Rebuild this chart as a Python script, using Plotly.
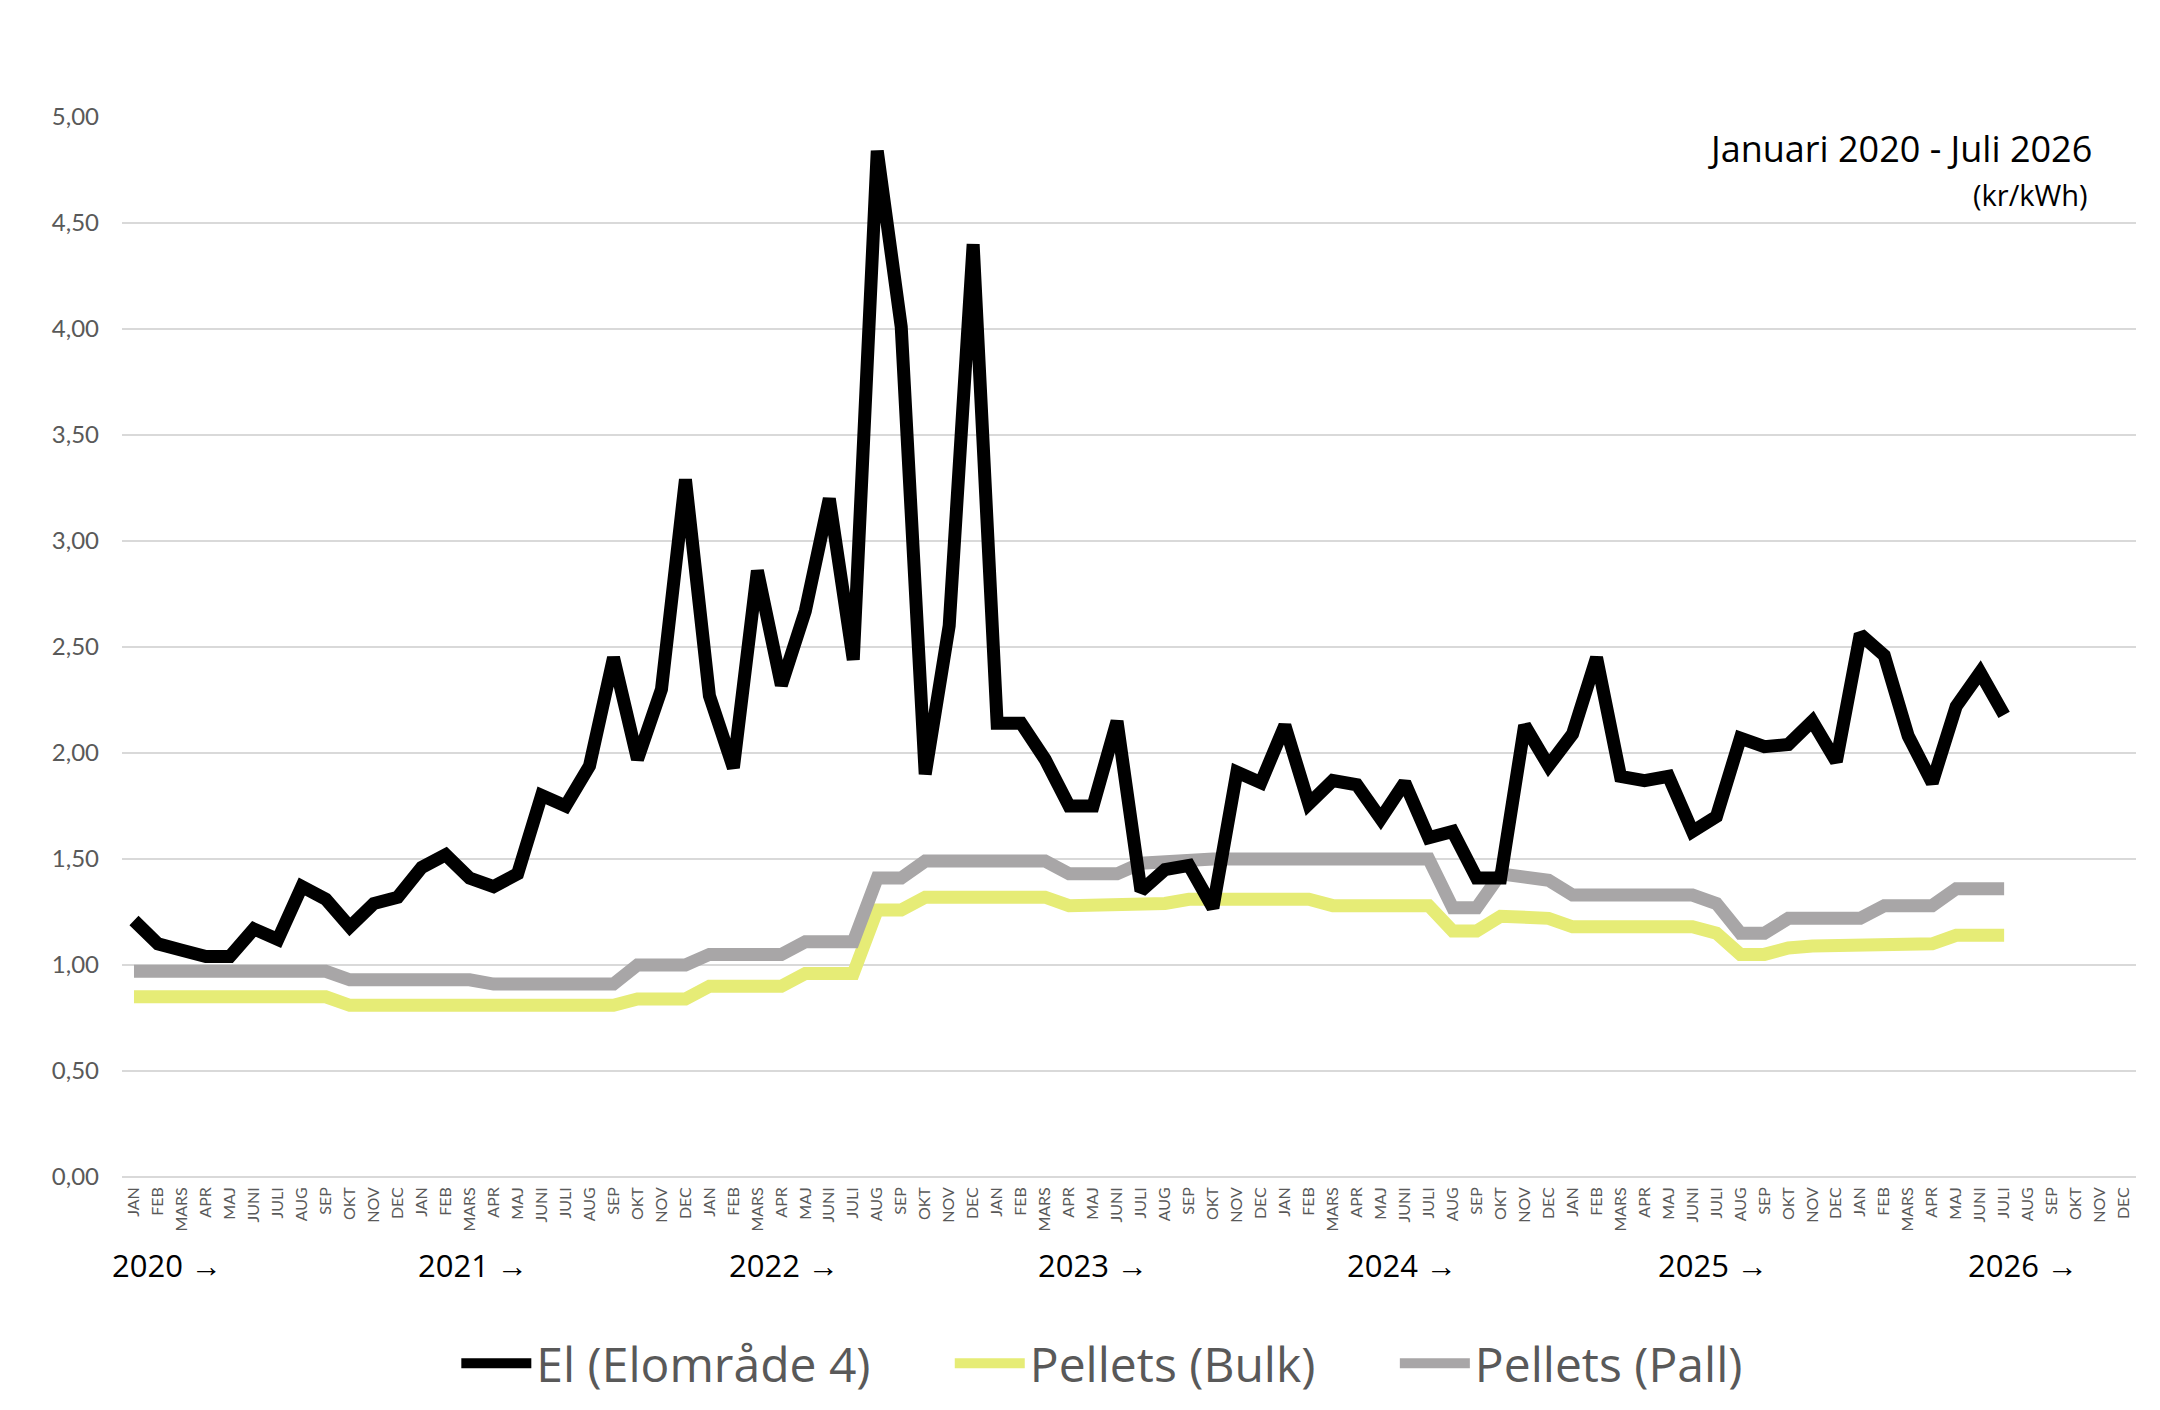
import plotly.graph_objects as go

# Month labels on the x axis (Swedish abbreviations), years shown below them
MONTHS = ["JAN", "FEB", "MARS", "APR", "MAJ", "JUNI", "JULI", "AUG", "SEP", "OKT", "NOV", "DEC"]
YEARS = ["2020", "2021", "2022", "2023", "2024", "2025", "2026"]

# kr/kWh, monthly from Jan 2020 to Jul 2026
EL_SE4 = [
    1.21, 1.10, 1.07, 1.04, 1.04, 1.17, 1.12, 1.37, 1.31, 1.18, 1.29, 1.32,
    1.46, 1.52, 1.41, 1.37, 1.43, 1.80, 1.75, 1.94, 2.45, 1.97, 2.30, 3.29,
    2.27, 1.93, 2.86, 2.32, 2.67, 3.20, 2.44, 4.84, 4.01, 1.90, 2.60, 4.40,
    2.14, 2.14, 1.97, 1.75, 1.75, 2.15, 1.35, 1.45, 1.47, 1.27, 1.91, 1.86,
    2.13, 1.76, 1.87, 1.85, 1.69, 1.86, 1.60, 1.63, 1.41, 1.41, 2.13, 1.94,
    2.09, 2.45, 1.89, 1.87, 1.89, 1.63, 1.70, 2.07, 2.03, 2.04, 2.15, 1.96,
    2.56, 2.46, 2.08, 1.86, 2.22, 2.38, 2.18,
]
PELLETS_BULK = [
    0.85, 0.85, 0.85, 0.85, 0.85, 0.85, 0.85, 0.85, 0.85, 0.81, 0.81, 0.81,
    0.81, 0.81, 0.81, 0.81, 0.81, 0.81, 0.81, 0.81, 0.81, 0.84, 0.84, 0.84,
    0.90, 0.90, 0.90, 0.90, 0.96, 0.96, 0.96, 1.26, 1.26, 1.32, 1.32, 1.32,
    1.32, 1.32, 1.32, 1.28, 1.28, 1.28, 1.28, 1.29, 1.31, 1.31, 1.31, 1.31,
    1.31, 1.31, 1.28, 1.28, 1.28, 1.28, 1.28, 1.16, 1.16, 1.23, 1.22, 1.22,
    1.18, 1.18, 1.18, 1.18, 1.18, 1.18, 1.15, 1.05, 1.05, 1.08, 1.09, 1.09,
    1.09, 1.10, 1.10, 1.10, 1.14, 1.14, 1.14,
]
PELLETS_PALL = [
    0.97, 0.97, 0.97, 0.97, 0.97, 0.97, 0.97, 0.97, 0.97, 0.93, 0.93, 0.93,
    0.93, 0.93, 0.93, 0.91, 0.91, 0.91, 0.91, 0.91, 0.91, 1.00, 1.00, 1.00,
    1.05, 1.05, 1.05, 1.05, 1.11, 1.11, 1.11, 1.41, 1.41, 1.49, 1.49, 1.49,
    1.49, 1.49, 1.49, 1.43, 1.43, 1.43, 1.48, 1.49, 1.50, 1.50, 1.50, 1.50,
    1.50, 1.50, 1.50, 1.50, 1.50, 1.50, 1.50, 1.27, 1.27, 1.43, 1.41, 1.40,
    1.33, 1.33, 1.33, 1.33, 1.33, 1.33, 1.29, 1.15, 1.15, 1.22, 1.22, 1.22,
    1.22, 1.28, 1.28, 1.28, 1.36, 1.36, 1.36,
]

# one category per month, the axis runs to Dec 2026
categories = [f"{m} {y}" for y in YEARS for m in MONTHS]
tick_text = [m for _ in YEARS for m in MONTHS]

TICK_FONT = "Lato"
TEXT_FONT = "Open Sans"
GREY_TEXT = "#595959"

fig = go.Figure()
fig.add_trace(go.Scatter(
    x=categories[:len(PELLETS_BULK)], y=PELLETS_BULK, mode="lines",
    name="Pellets (Bulk)", legend="legend2",
    line=dict(color="#E6EC76", width=13),
))
fig.add_trace(go.Scatter(
    x=categories[:len(PELLETS_PALL)], y=PELLETS_PALL, mode="lines",
    name="Pellets (Pall)", legend="legend3",
    line=dict(color="#A8A6A7", width=13),
))
fig.add_trace(go.Scatter(
    x=categories[:len(EL_SE4)], y=EL_SE4, mode="lines",
    name="El (Elområde 4)", legend="legend",
    line=dict(color="#000000", width=13),
))

# year markers under the month labels
year_x = [-0.006, 0.1459, 0.3002, 0.4536, 0.6074, 0.7618, 0.9156]
annotations = [
    dict(text=f"{y} →", x=px_, y=-0.083, xref="paper", yref="paper",
         xanchor="left", yanchor="middle", showarrow=False,
         font=dict(family=TEXT_FONT, size=31, color="#000000", weight=500))
    for y, px_ in zip(YEARS, year_x)
]
annotations += [
    dict(text="Januari 2020 - Juli 2026", x=0.979, y=0.97, xref="paper", yref="paper",
         xanchor="right", yanchor="middle", showarrow=False,
         font=dict(family=TEXT_FONT, size=36, color="#000000", weight=500)),
    dict(text="(kr/kWh)", x=0.977, y=0.927, xref="paper", yref="paper",
         xanchor="right", yanchor="middle", showarrow=False,
         font=dict(family=TEXT_FONT, size=29, color="#000000")),
]


def legend_box(x):
    return dict(
        orientation="h", x=x, xanchor="left", y=-0.176, yanchor="middle",
        bgcolor="rgba(0,0,0,0)",
        font=dict(family=TEXT_FONT, size=48, color=GREY_TEXT),
        itemwidth=70,
    )


# the page adds an 8px body margin, so the figure is 16px smaller than the window
fig.update_layout(
    width=2144,
    height=1394,
    margin=dict(l=114, r=16, t=109, b=225, autoexpand=False),
    paper_bgcolor="white",
    plot_bgcolor="white",
    separators=",.",
    font=dict(family=TICK_FONT, color=GREY_TEXT),
    showlegend=True,
    legend=legend_box(0.166),
    legend2=legend_box(0.411),
    legend3=legend_box(0.632),
    annotations=annotations,
    xaxis=dict(
        type="category",
        categoryorder="array",
        categoryarray=categories,
        range=[-0.5, len(categories) - 0.5],
        tickmode="array",
        tickvals=categories,
        ticktext=tick_text,
        tickangle=-90,
        tickfont=dict(family=TICK_FONT, size=16, color=GREY_TEXT),
        showgrid=False,
        showline=False,
        ticks="",
        ticklabelstandoff=6,
    ),
    yaxis=dict(
        range=[0, 5],
        dtick=0.5,
        tickformat=".2f",
        tickfont=dict(family=TICK_FONT, size=24, color=GREY_TEXT),
        gridcolor="#D9D9D9",
        gridwidth=2,
        zeroline=True,
        zerolinecolor="#D9D9D9",
        zerolinewidth=2,
        showline=False,
        ticklabelstandoff=22,
    ),
)

fig.write_html("out.html")
